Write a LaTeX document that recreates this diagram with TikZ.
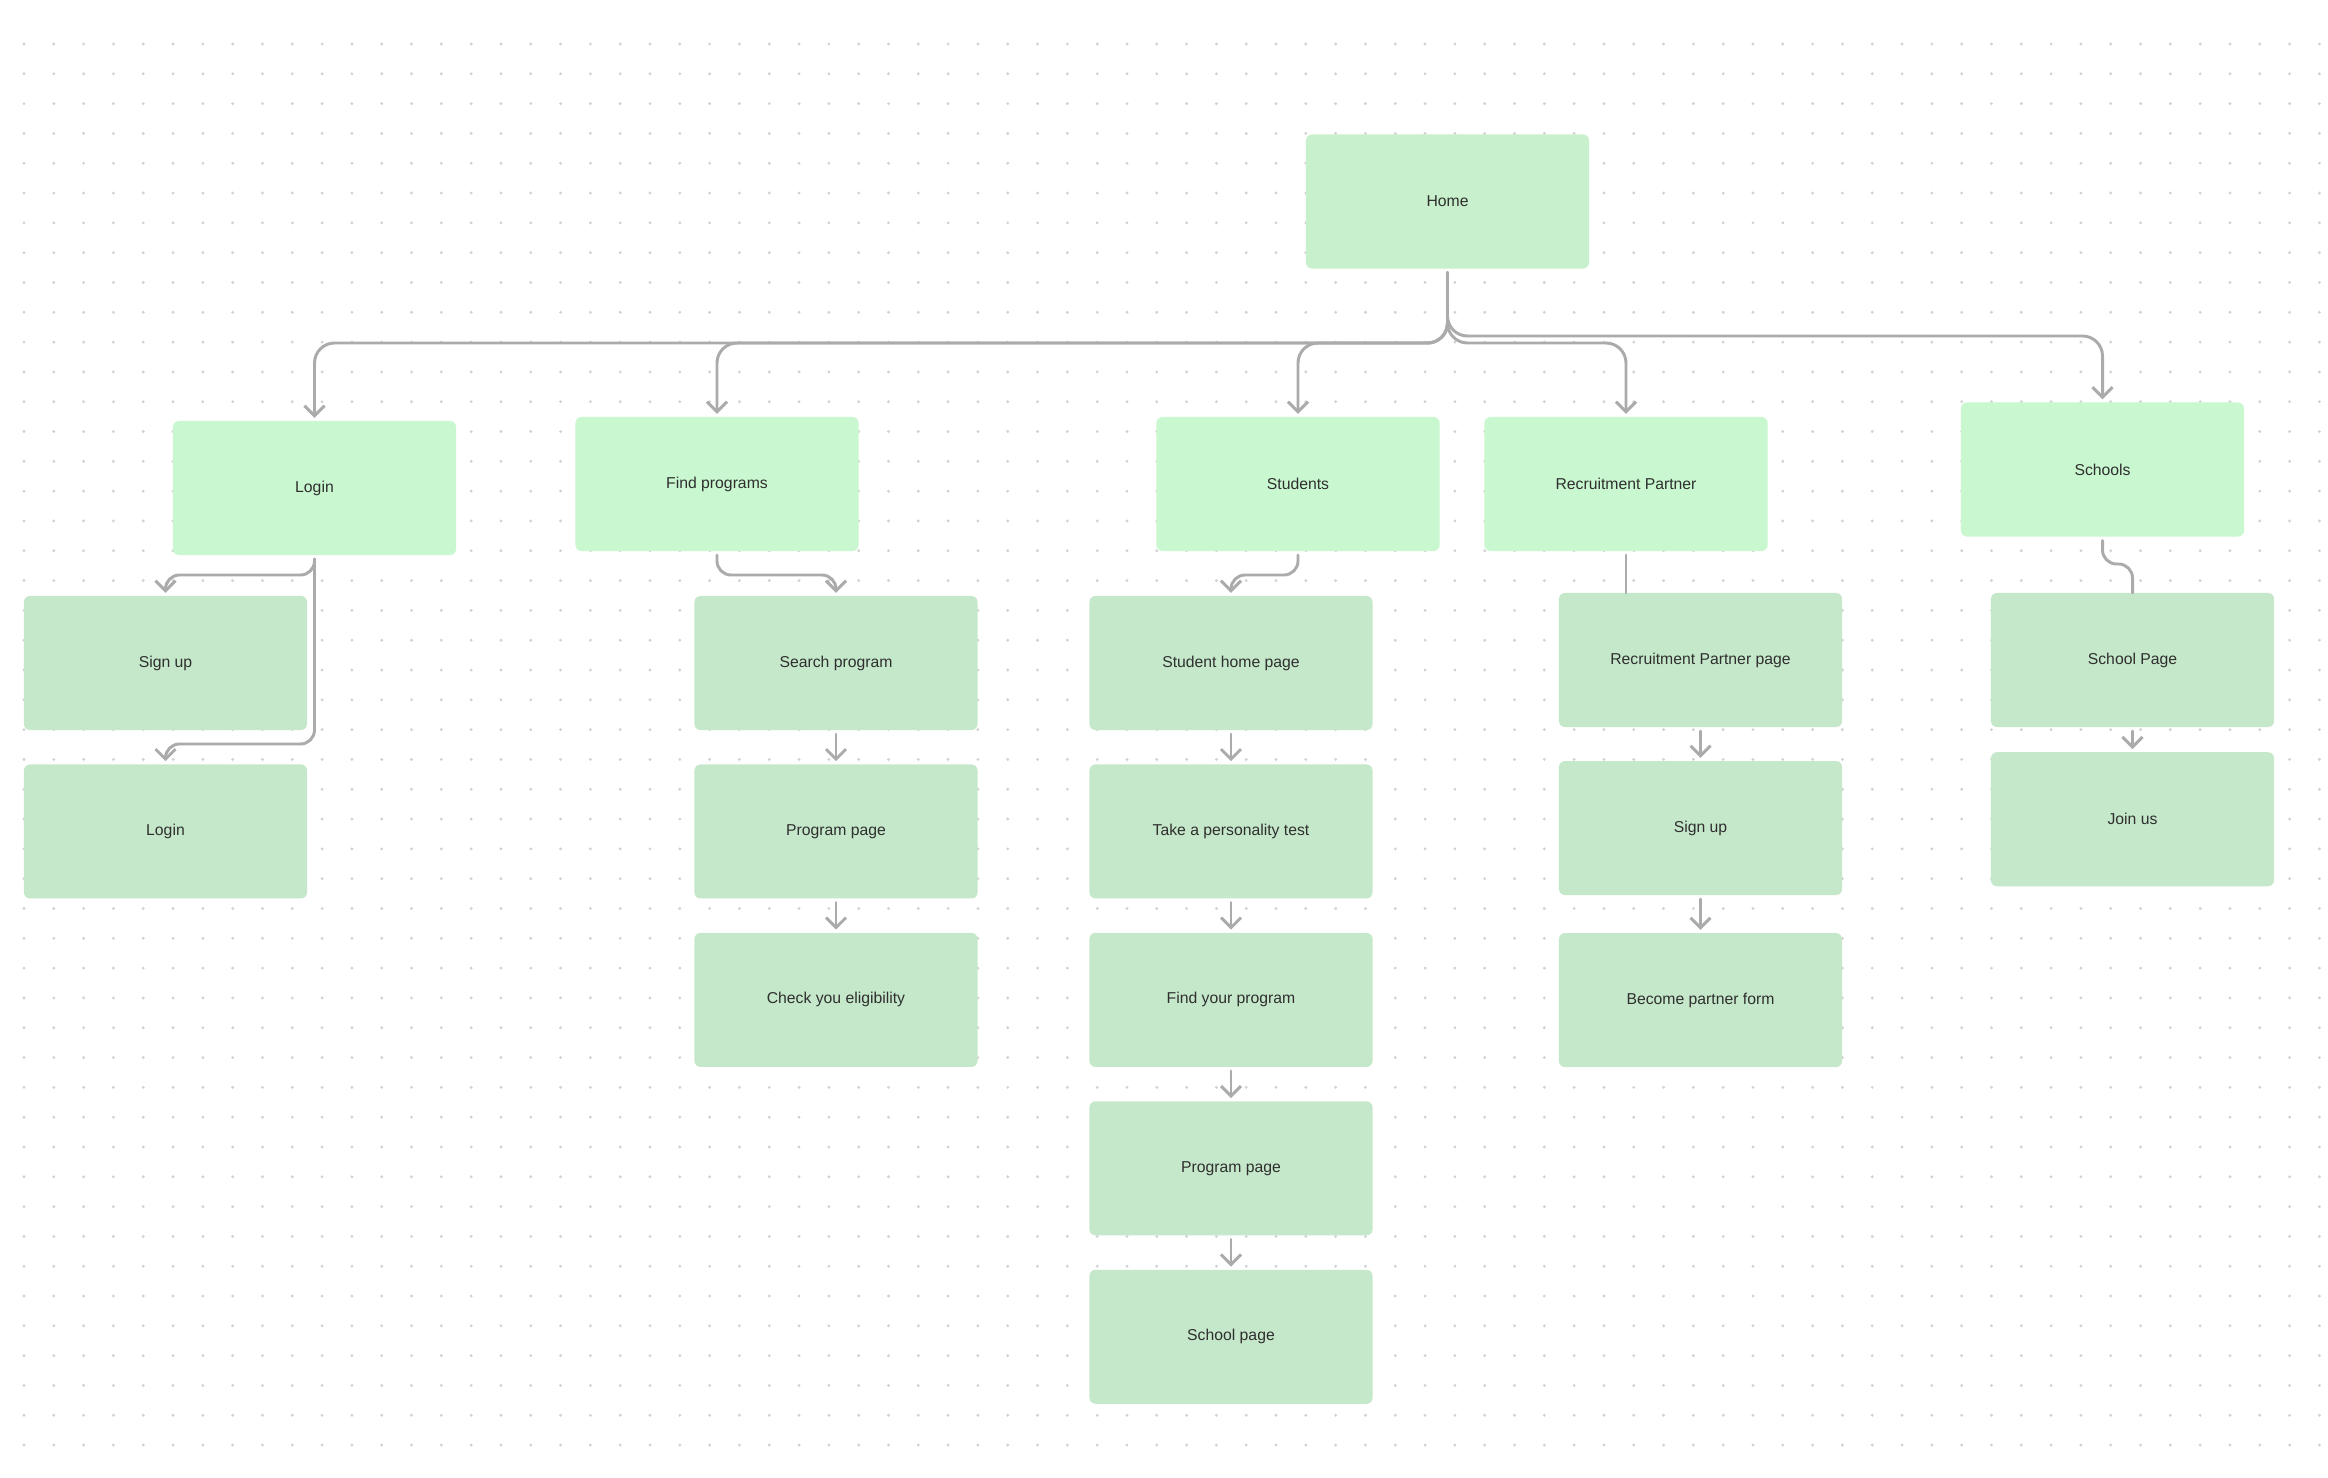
\documentclass[tikz,border=0pt]{standalone}
\usepackage{fontspec}
\setmainfont{Liberation Sans}
\usetikzlibrary{arrows.meta, positioning}
\definecolor{topgreen}{HTML}{C9F7CF}
\definecolor{homegreen}{HTML}{C8F0CC}
\definecolor{pagegreen}{HTML}{C5E8CA}
\definecolor{linkgray}{HTML}{ABABAB}
\definecolor{dotgray}{HTML}{D2D2D2}
\definecolor{labelc}{HTML}{2F2F2F}
\tikzset{
  sectionbox/.style={rectangle, fill=topgreen, rounded corners=0.15cm, minimum width=7.075cm, minimum height=3.35cm, align=center, text=labelc, font=\fontsize{11.2}{13}\selectfont, outer sep=0pt},
  pagebox/.style={sectionbox, fill=pagegreen},
  link/.style={draw=linkgray, line width=2.1pt, rounded corners=0.5cm, line cap=round, shorten <=0.1cm},
  arrow/.style={link, shorten >=0.08cm, -{Straight Barb[length=0.25cm, width=0.5cm]}},
}

\begin{document}
\begin{tikzpicture}[x=0.025cm, y=-0.025cm]
    \fill[white] (0,0) rectangle (2328,1478);
    \useasboundingbox (0,0) rectangle (2328,1478);
    % dotted canvas
    \foreach \i in {0,...,77}
      \foreach \j in {0,...,47}
        \fill[dotgray] (24+\i*29.81, 44+\j*29.81) circle (0.04cm);

    \node[sectionbox, fill=homegreen] (home) at (1447.5,201.5) {Home};
    \node[sectionbox] (login) at (314.5,488) {Login};
    \node[sectionbox] (fprog) at (717,484) {Find programs};
    \node[sectionbox] (students) at (1298,484) {Students};
    \node[sectionbox] (rpartner) at (1626,484) {Recruitment Partner};
    \node[sectionbox] (schools) at (2102.5,469.5) {Schools};

    \node[pagebox] (signup) at (165.5,663) {Sign up};
    \node[pagebox, below=0.86cm of signup] (login2) {Login};

    \node[pagebox] (search) at (836,663) {Search program};
    \node[pagebox, below=0.86cm of search] (progpage) {Program page};
    \node[pagebox, below=0.86cm of progpage] (elig) {Check you eligibility};

    \node[pagebox] (shome) at (1231,663) {Student home page};
    \node[pagebox, below=0.86cm of shome] (ptest) {Take a personality test};
    \node[pagebox, below=0.86cm of ptest] (findprog) {Find your program};
    \node[pagebox, below=0.86cm of findprog] (progpage2) {Program page};
    \node[pagebox, below=0.86cm of progpage2] (spage) {School page};

    \node[pagebox] (rppage) at (1700.5,660) {Recruitment Partner page};
    \node[pagebox, below=0.85cm of rppage] (rpsignup) {Sign up};
    \node[pagebox, below=0.95cm of rpsignup] (pform) {Become partner form};

    \node[pagebox] (schpage) at (2132.5,660) {School Page};
    \node[pagebox, below=0.63cm of schpage] (joinus) {Join us};

    \coordinate (bus) at (0,343);
    \coordinate (bushigh) at (0,336);
    \draw[arrow] (home.south) |- (login.north |- bus) -- (login.north);
    \draw[arrow] (home.south) |- (fprog.north |- bus) -- (fprog.north);
    \draw[arrow] (home.south) |- (students.north |- bus) -- (students.north);
    \draw[arrow] (home.south) |- (rpartner.north |- bus) -- (rpartner.north);
    \draw[arrow] (home.south) |- (schools.north |- bushigh) -- (schools.north);

    \draw[arrow, rounded corners=0.35cm] (login.south) |- (signup.north |- 0,575) -- (signup.north);
    \draw[arrow, rounded corners=0.35cm] (login.south) |- (login2.north |- 0,744) -- (login2.north);

    \draw[arrow, rounded corners=0.35cm] (fprog.south) |- (search.north |- 0,575) -- (search.north);
    \draw[arrow] (search.south) -- (progpage.north);
    \draw[arrow] (progpage.south) -- (elig.north);

    \draw[arrow, rounded corners=0.35cm] (students.south) |- (shome.north |- 0,575) -- (shome.north);
    \draw[arrow] (shome.south) -- (ptest.north);
    \draw[arrow] (ptest.south) -- (findprog.north);
    \draw[arrow] (findprog.south) -- (progpage2.north);
    \draw[arrow] (progpage2.south) -- (spage.north);

    \draw[link] (rpartner.south) -- (rpartner.south |- rppage.north);
    \draw[arrow] (rppage.south) -- (rpsignup.north);
    \draw[arrow] (rpsignup.south) -- (pform.north);

    \draw[link, rounded corners=0.35cm] (schools.south) |- (schpage.north |- 0,564) -- (schpage.north);
    \draw[arrow] (schpage.south) -- (joinus.north);
\end{tikzpicture}
\end{document}
